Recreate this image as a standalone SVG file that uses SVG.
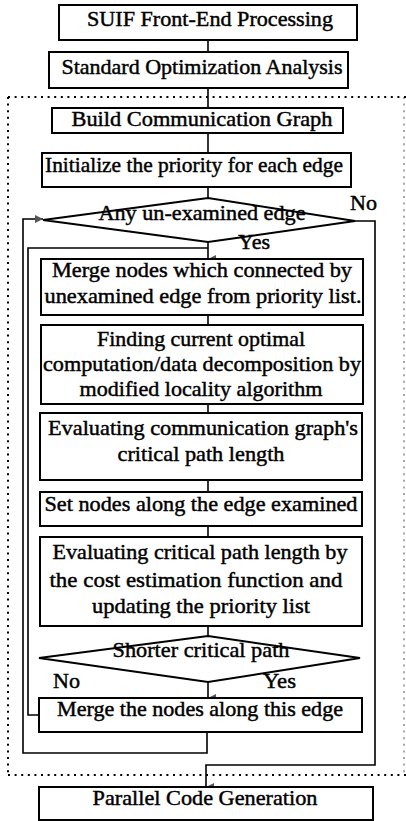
<svg xmlns="http://www.w3.org/2000/svg" width="406" height="821" viewBox="0 0 406 821">
<defs>
<style>
.box{fill:#fff;stroke:#000;stroke-width:2}
.dia{fill:#fff;stroke:#000;stroke-width:2}
.t{font-family:"Liberation Serif","Times New Roman",serif;font-size:22px;fill:#000;stroke:#000;stroke-width:0.45;text-anchor:middle}
.l{font-family:"Liberation Serif","Times New Roman",serif;font-size:22px;fill:#000;stroke:#000;stroke-width:0.45}
.c{fill:none;stroke:#000;stroke-width:1.6}
.dot{fill:none;stroke:#000;stroke-width:2;stroke-dasharray:2 4.6}
</style>
<marker id="ah" viewBox="0 0 8 8" refX="4" refY="8" markerWidth="8" markerHeight="8" markerUnits="userSpaceOnUse" orient="auto-start-reverse">
<path d="M0,0 L8,0 L4,8 Z" fill="#555"/>
</marker>
<marker id="ar" viewBox="0 0 8 8" refX="8" refY="4" markerWidth="8" markerHeight="8" markerUnits="userSpaceOnUse" orient="0">
<path d="M0,0 L8,4 L0,8 Z" fill="#555"/>
</marker>
</defs>
<rect width="406" height="821" fill="#fff"/>
<g id="region">
<path class="dot" d="M8,97 H406"/>
<path class="dot" d="M8,97 V775"/>
<path class="dot" d="M8,775 H406"/>
<path class="dot" d="M404,97 V775" stroke-opacity="0.35"/>
</g>
<g id="connectors">
<path class="c" d="M208,40 V52"/>
<path class="c" d="M208,88 V108"/>
<path class="c" d="M208,133 V153"/>
<path class="c" d="M208,187 V198"/>
<path class="c" d="M208,242 V259" marker-end="url(#ah)"/>
<path class="c" d="M208,315 V325"/>
<path class="c" d="M208,404 V413"/>
<path class="c" d="M208,480 V492"/>
<path class="c" d="M208,526 V537"/>
<path class="c" d="M208,626 V636"/>
<path class="c" d="M208,682 V698" marker-end="url(#ah)"/>
<path class="c" d="M207,732 V753 H23 V219 H43" marker-end="url(#ar)"/>
<path class="c" d="M39,715 H28 V248 H208"/>
<path class="c" d="M355,221 H375 V765 H206 V787" marker-end="url(#ah)"/>
</g>
<g id="suif"><rect class="box" x="59" y="5" width="298" height="35"/><text class="t" x="210" y="26" textLength="246" lengthAdjust="spacingAndGlyphs">SUIF Front-End Processing</text></g>
<g id="standard"><rect class="box" x="49" y="52" width="299" height="36"/><text class="t" x="202" y="74" textLength="281" lengthAdjust="spacingAndGlyphs">Standard Optimization Analysis</text></g>
<g id="build"><rect class="box" x="52" y="108" width="291" height="25"/><text class="t" x="202" y="126" textLength="261" lengthAdjust="spacingAndGlyphs">Build Communication Graph</text></g>
<g id="init"><rect class="box" x="42" y="153" width="309" height="34"/><text class="t" x="194" y="172" textLength="298" lengthAdjust="spacingAndGlyphs">Initialize the priority for each edge</text></g>
<g id="anyedge"><polygon class="dia" points="43,220 208,198 355,221 208,242"/><text class="t" x="202" y="220" textLength="207" lengthAdjust="spacingAndGlyphs">Any un-examined edge</text>
<text class="l" x="350" y="210" textLength="27" lengthAdjust="spacingAndGlyphs">No</text>
<text class="l" x="238" y="249" textLength="32" lengthAdjust="spacingAndGlyphs">Yes</text></g>
<g id="merge1"><rect class="box" x="41" y="259" width="322" height="56"/>
<text class="t" x="202" y="277" textLength="300" lengthAdjust="spacingAndGlyphs">Merge nodes which connected by</text>
<text class="t" x="203" y="303" textLength="317" lengthAdjust="spacingAndGlyphs">unexamined edge from priority list.</text></g>
<g id="finding"><rect class="box" x="41" y="325" width="322" height="79"/>
<text class="t" x="201" y="346" textLength="208" lengthAdjust="spacingAndGlyphs">Finding current optimal</text>
<text class="t" x="202" y="371" textLength="318" lengthAdjust="spacingAndGlyphs">computation/data decomposition by</text>
<text class="t" x="201" y="396" textLength="243" lengthAdjust="spacingAndGlyphs">modified locality algorithm</text></g>
<g id="evalcomm"><rect class="box" x="40" y="413" width="322" height="67"/>
<text class="t" x="203" y="435" textLength="310" lengthAdjust="spacingAndGlyphs">Evaluating communication graph's</text>
<text class="t" x="201" y="461" textLength="167" lengthAdjust="spacingAndGlyphs">critical path length</text></g>
<g id="setnodes"><rect class="box" x="40" y="492" width="322" height="34"/>
<text class="t" x="201" y="511" textLength="313" lengthAdjust="spacingAndGlyphs">Set nodes along the edge examined</text></g>
<g id="evalcrit"><rect class="box" x="40" y="537" width="322" height="89"/>
<text class="t" x="200" y="559" textLength="295" lengthAdjust="spacingAndGlyphs">Evaluating critical path length by</text>
<text class="t" x="196" y="587" textLength="293" lengthAdjust="spacingAndGlyphs">the cost estimation function and</text>
<text class="t" x="201" y="613" textLength="218" lengthAdjust="spacingAndGlyphs">updating the priority list</text></g>
<g id="shorter"><polygon class="dia" points="39,658 208,636 360,658 208,682"/>
<text class="t" x="201" y="657" textLength="177" lengthAdjust="spacingAndGlyphs">Shorter critical path</text>
<text class="l" x="53" y="688" textLength="27" lengthAdjust="spacingAndGlyphs">No</text>
<text class="l" x="263" y="688" textLength="33" lengthAdjust="spacingAndGlyphs">Yes</text></g>
<g id="merge2"><rect class="box" x="39" y="698" width="323" height="34"/>
<text class="t" x="200" y="716" textLength="286" lengthAdjust="spacingAndGlyphs">Merge the nodes along this edge</text></g>
<g id="parallel"><rect class="box" x="39" y="787" width="334" height="33"/>
<text class="t" x="205" y="805" textLength="225" lengthAdjust="spacingAndGlyphs">Parallel Code Generation</text></g>
</svg>
